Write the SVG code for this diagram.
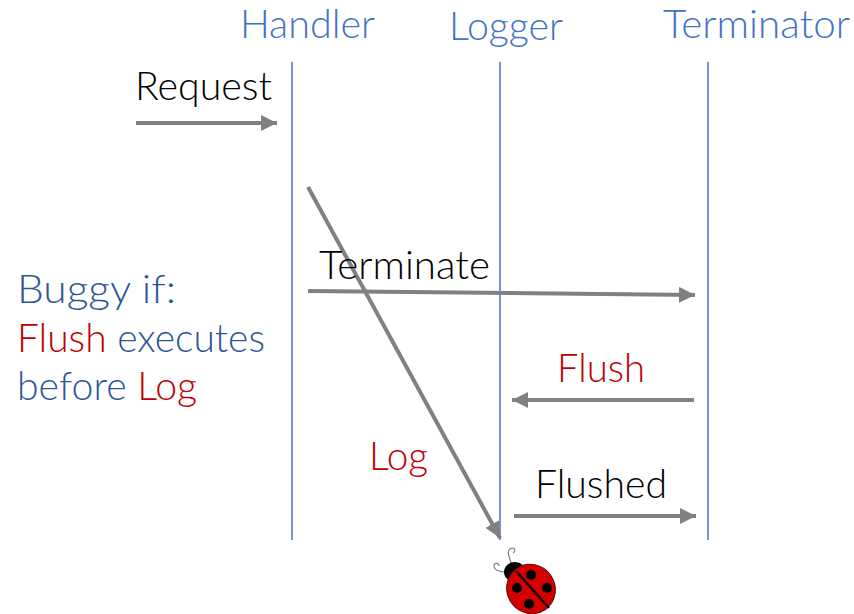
<svg xmlns="http://www.w3.org/2000/svg" width="854" height="614" viewBox="0 0 854 614">
  <style>
    text { font-family: Lato, "Open Sans", "Liberation Sans", sans-serif; font-size: 39px; font-weight: 300; }
    .head { fill: #4472C4; }
    .lbl { fill: #000000; }
    .red { fill: #C00000; }
    .blue { fill: #2F5597; }
    .life { stroke: #4472C4; stroke-width: 1.5; fill: none; }
    .msg { stroke: #808080; stroke-width: 4; fill: none; marker-end: url(#arrow); }
  </style>
  <defs>
    <marker id="arrow" markerUnits="userSpaceOnUse" markerWidth="18" markerHeight="16" refX="16" refY="8" orient="auto">
      <path d="M0,0 L16,8 L0,16 Z" fill="#808080"/>
    </marker>
  </defs>
  <rect width="854" height="614" fill="#ffffff"/>

  <!-- participants -->
  <g id="handler">
    <text class="head" x="240" y="38" textLength="135" lengthAdjust="spacingAndGlyphs">Handler</text>
    <line class="life" x1="292" y1="62" x2="292" y2="540"/>
  </g>
  <g id="logger">
    <text class="head" x="449" y="40" textLength="114" lengthAdjust="spacingAndGlyphs">Logger</text>
    <line class="life" x1="500" y1="62" x2="500" y2="540"/>
  </g>
  <g id="terminator">
    <text class="head" x="663" y="38" textLength="187" lengthAdjust="spacingAndGlyphs">Terminator</text>
    <line class="life" x1="708" y1="62" x2="708" y2="540"/>
  </g>

  <!-- messages -->
  <g id="connectors">
    <line class="msg" x1="136" y1="123" x2="277" y2="123"/>
    <line class="msg" x1="308" y1="187" x2="500" y2="538"/>
    <line class="msg" x1="308" y1="291" x2="695" y2="295"/>
    <line class="msg" x1="694" y1="400" x2="512" y2="400"/>
    <line class="msg" x1="514" y1="516" x2="696" y2="516"/>
  </g>

  <g id="labels">
    <text class="lbl" x="135" y="100" textLength="137" lengthAdjust="spacingAndGlyphs">Request</text>
    <text class="lbl" x="319" y="279" textLength="171" lengthAdjust="spacingAndGlyphs">Terminate</text>
    <text class="red" x="557" y="382" textLength="88" lengthAdjust="spacingAndGlyphs">Flush</text>
    <text class="red" x="369" y="470" textLength="59" lengthAdjust="spacingAndGlyphs">Log</text>
    <text class="lbl" x="535" y="498" textLength="132" lengthAdjust="spacingAndGlyphs">Flushed</text>
  </g>

  <g id="note">
    <text class="blue" x="17" y="303" textLength="159" lengthAdjust="spacingAndGlyphs">Buggy if:</text>
    <text x="17" y="352" textLength="248" lengthAdjust="spacingAndGlyphs"><tspan class="red">Flush</tspan><tspan class="blue"> executes</tspan></text>
    <text x="17" y="400" textLength="180" lengthAdjust="spacingAndGlyphs"><tspan class="blue">before </tspan><tspan class="red">Log</tspan></text>
  </g>

  <!-- ladybug -->
  <g id="ladybug">
    <path d="M512,566 C510,558 506,552 510,549 C514,546 517,551 513,553" fill="none" stroke="#808080" stroke-width="1.2"/>
    <path d="M506,572 C500,572 494,570 494,566 C494,562 499,563 499,566" fill="none" stroke="#808080" stroke-width="1.2"/>
    <ellipse cx="515" cy="572" rx="11" ry="10" fill="#000000"/>
    <ellipse cx="531" cy="589" rx="24" ry="25" transform="rotate(-35 531 589)" fill="#D40000" stroke="#6a0000" stroke-width="1"/>
    <line x1="516" y1="571" x2="549" y2="608" stroke="#1a0000" stroke-width="2.5"/>
    <circle cx="531" cy="575" r="5" fill="#000000"/>
    <circle cx="517" cy="588" r="5" fill="#000000"/>
    <circle cx="547" cy="588" r="5" fill="#000000"/>
    <circle cx="529" cy="604" r="5" fill="#000000"/>
  </g>
</svg>
